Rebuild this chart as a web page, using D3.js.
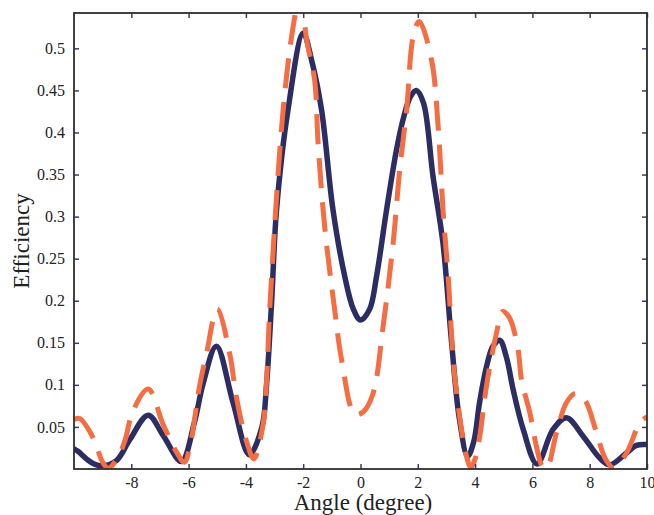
<!DOCTYPE html>
<html>
<head>
<meta charset="utf-8">
<script src="https://cdn.jsdelivr.net/npm/d3@7"></script>
<style>
  body { margin: 0; background: #fff; }
  svg { display: block; }
</style>
</head>
<body>
<div id="viz"></div>
<script>
    // Measured curve (solid navy)
    const measuredAngle = [-10, -9.86, -9.45, -9.1, -8.52, -8.05, -7.41, -6.89, -6.25, -5.8, -5.49, -5.03, -4.45, -3.88,
        -3.44, -3.28, -3.1, -2.93, -2.53, -2.0, -1.7, -1.36, -0.96, -0.55, -0.25, 0, 0.32, 0.56, 0.91, 1.26, 1.52, 1.75, 1.95, 2.2,
        2.53, 2.88, 3.18, 3.45, 3.74, 3.95, 4.16, 4.4, 4.62, 4.86, 5.1, 5.33, 5.68, 6.16, 6.72, 7.19, 7.77, 8.35, 8.7,
        9.28, 9.63, 10];
    const measuredEff = [0.024, 0.021, 0.009, 0.004, 0.010, 0.035, 0.064, 0.040, 0.009, 0.055, 0.102, 0.146, 0.079, 0.017,
        0.050, 0.100, 0.200, 0.308, 0.427, 0.518, 0.485, 0.427, 0.308, 0.229, 0.190, 0.177, 0.190, 0.229, 0.308, 0.380, 0.420, 0.443, 0.450, 0.435,
        0.348, 0.268, 0.150, 0.060, 0.015, 0.032, 0.080, 0.122, 0.146, 0.153, 0.132, 0.094, 0.047, 0.006, 0.047, 0.061, 0.039, 0.013, 0.005,
        0.019, 0.028, 0.029];

    // Simulated curve (dashed orange)
    const simAngle = [-10, -9.8, -9.33, -9.0, -8.8, -8.5, -8.23, -7.94, -7.41, -6.89, -6.42, -6.15, -5.96, -5.61, -5.38,
        -5.0, -4.56, -4.33, -3.98, -3.72, -3.4, -3.28, -3.17, -2.7, -2.35, -2.1, -1.88, -1.6, -1.48, -1.25, -0.9, -0.66,
        -0.2, 0.1, 0.44, 0.79, 1.14, 1.37, 1.61, 1.84, 2.05, 2.48, 2.71, 2.88, 3.06, 3.29, 3.7, 3.85, 4.0, 4.18, 4.33,
        4.51, 4.75, 4.95, 5.18, 5.49, 5.62, 5.91, 6.14, 6.35, 6.5, 6.84, 7.19, 7.5, 7.83, 8.24, 8.55, 8.85, 9.3, 9.75, 10];
    const simEff = [0.059, 0.060, 0.037, 0.008, 0.001, 0.012, 0.033, 0.069, 0.095, 0.053, 0.020, 0.008, 0.026, 0.100, 0.136,
        0.190, 0.136, 0.085, 0.033, 0.012, 0.053, 0.104, 0.189, 0.427, 0.526, 0.566, 0.510, 0.462, 0.387, 0.288, 0.189, 0.130,
        0.065, 0.068, 0.090, 0.170, 0.269, 0.356, 0.427, 0.514, 0.532, 0.486, 0.407, 0.308, 0.229, 0.110, 0.015, 0.002, 0.012, 0.043, 0.083,
        0.122, 0.162, 0.187, 0.181, 0.144, 0.106, 0.067, 0.027, 0.003, 0.001, 0.043, 0.079, 0.090, 0.082, 0.043, 0.012, 0.001, 0.020, 0.055, 0.062];

    const xTicks = [-8, -6, -4, -2, 0, 2, 4, 6, 8, 10];
    const yTicks = [0.05, 0.1, 0.15, 0.2, 0.25, 0.3, 0.35, 0.4, 0.45, 0.5];

    const width = 654;
    const height = 515;
    const margin = { top: 13, right: 7, bottom: 46, left: 74 };

    const serif = "'Liberation Serif', 'Times New Roman', serif";
    const frameColor = "#2e2e2e";
    const tickColor = "#3a3b73";
    const colors = { measured: "#2c2e63", sim: "#f46d43" };

    const svg = d3.select("#viz")
        .append("svg")
        .attr("width", width)
        .attr("height", height)
        .attr("font-family", serif);

    const x = d3.scaleLinear()
        .domain([-10, 10])
        .range([margin.left, width - margin.right]);

    const y = d3.scaleLinear()
        .domain([0, 0.542])
        .range([height - margin.bottom, margin.top]);

    const plotW = width - margin.right - margin.left;
    const plotH = height - margin.bottom - margin.top;

    svg.append("defs")
        .append("clipPath")
        .attr("id", "clip")
        .append("rect")
        .attr("x", margin.left)
        .attr("y", margin.top)
        .attr("width", plotW)
        .attr("height", plotH);

    const line = d3.line()
        .curve(d3.curveCatmullRom.alpha(0.5))
        .x(d => x(d[0]))
        .y(d => y(d[1]));

    const chartBody = svg.append("g").attr("clip-path", "url(#clip)");

    chartBody.append("path")
        .datum(d3.zip(measuredAngle, measuredEff))
        .attr("fill", "none")
        .attr("stroke", colors.measured)
        .attr("stroke-width", 5.5)
        .attr("stroke-linejoin", "round")
        .attr("stroke-linecap", "round")
        .attr("d", line);

    chartBody.append("path")
        .datum(d3.zip(simAngle, simEff))
        .attr("fill", "none")
        .attr("stroke", colors.sim)
        .attr("stroke-width", 5)
        .attr("stroke-dasharray", "30,14")
        .attr("d", line);

    //Axes: ticks inward on all four sides
    const fmt = d => String(+d.toFixed(2));

    const xAxisG = svg.append("g")
        .attr("transform", `translate(0,${height - margin.bottom})`)
        .call(d3.axisBottom(x).tickValues(xTicks).tickFormat(fmt).tickSizeInner(-5).tickSizeOuter(0).tickPadding(8));

    const yAxisG = svg.append("g")
        .attr("transform", `translate(${margin.left},0)`)
        .call(d3.axisLeft(y).tickValues(yTicks).tickFormat(fmt).tickSizeInner(-5).tickSizeOuter(0).tickPadding(9));

    const topAxisG = svg.append("g")
        .attr("transform", `translate(0,${margin.top})`)
        .call(d3.axisTop(x).tickValues(xTicks).tickSizeInner(-5).tickSizeOuter(0).tickFormat(""));

    const rightAxisG = svg.append("g")
        .attr("transform", `translate(${width - margin.right},0)`)
        .call(d3.axisRight(y).tickValues(yTicks).tickSizeInner(-5).tickSizeOuter(0).tickFormat(""));

    [xAxisG, yAxisG, topAxisG, rightAxisG].forEach(g => {
        g.attr("font-family", serif).attr("font-size", 16);
        g.select(".domain").remove();
        g.selectAll(".tick line").attr("stroke", tickColor).attr("stroke-width", 1.5);
        g.selectAll(".tick text").attr("fill", "#222");
    });

    //Frame
    svg.append("rect")
        .attr("x", margin.left)
        .attr("y", margin.top)
        .attr("width", plotW)
        .attr("height", plotH)
        .attr("fill", "none")
        .attr("stroke", frameColor)
        .attr("stroke-width", 1.8);

    svg.append("text")
        .attr("transform", `translate(29,${margin.top + plotH / 2}) rotate(-90)`)
        .attr("text-anchor", "middle")
        .attr("fill", "#222")
        .attr("font-size", 23)
        .text("Efficiency");

    svg.append("text")
        .attr("x", 363)
        .attr("y", 510)
        .attr("text-anchor", "middle")
        .attr("fill", "#222")
        .attr("font-size", 23)
        .text("Angle (degree)");
</script>
</body>
</html>
